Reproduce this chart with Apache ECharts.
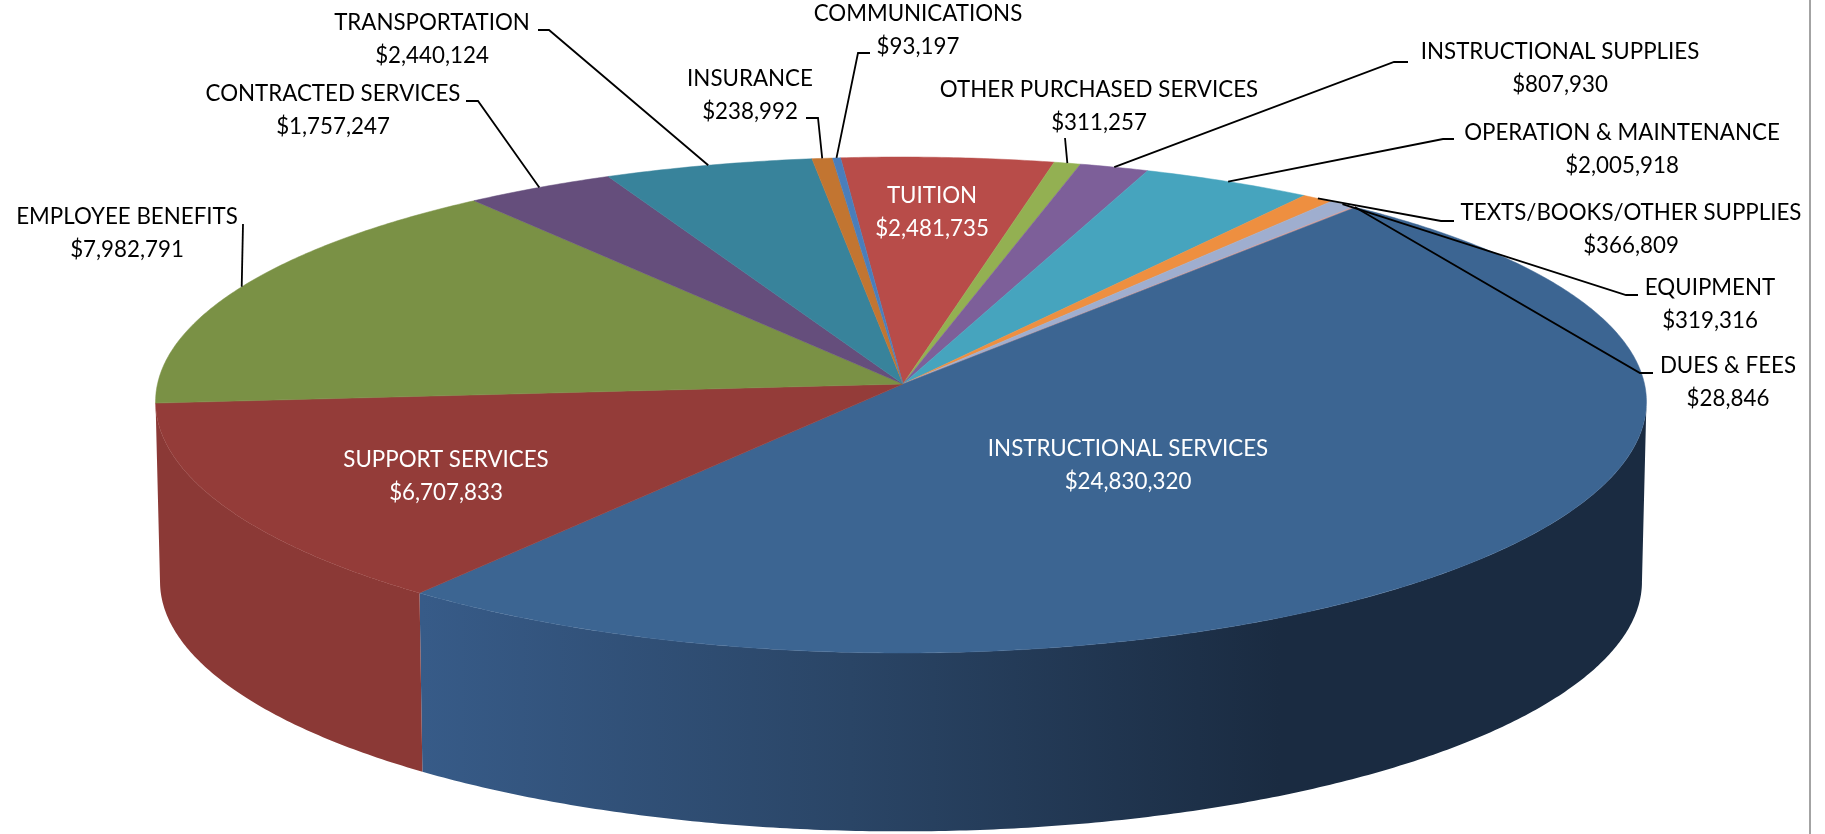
<!DOCTYPE html>
<html>
<head>
<meta charset="utf-8">
<title>Expenditures</title>
<script src="https://cdn.jsdelivr.net/npm/echarts@6/dist/echarts.min.js"></script>
<style>
    html, body { margin: 0; padding: 0; background: #fff; }
    #chart { width: 1825px; height: 834px; }
</style>
</head>
<body>
<div id="chart"></div>
<script>
// clockwise from the tuition slice
var categories = ['TUITION', 'OTHER PURCHASED SERVICES', 'INSTRUCTIONAL SUPPLIES', 'OPERATION & MAINTENANCE',
    'TEXTS/BOOKS/OTHER SUPPLIES', 'EQUIPMENT', 'DUES & FEES', 'INSTRUCTIONAL SERVICES', 'SUPPORT SERVICES',
    'EMPLOYEE BENEFITS', 'CONTRACTED SERVICES', 'TRANSPORTATION', 'INSURANCE', 'COMMUNICATIONS'];
var amounts = [2481735, 311257, 807930, 2005918, 366809, 319316, 28846, 24830320, 6707833,
    7982791, 1757247, 2440124, 238992, 93197];
var topColors = ['#B84C49', '#93B052', '#7D5F99', '#46A4BE', '#EE8F40', '#9FAECF', '#D09B98', '#3C6592', '#943C39',
    '#7A9145', '#654E7C', '#38839B', '#C27531', '#4A7EBB'];

// label centre x, y of the first text line, leader start and elbow
var labelLayout = [
    { x: 932, y: 195, white: true },
    { x: 1099, y: 89, leader: [[1065, 138]] },
    { x: 1560, y: 51, leader: [[1408, 62], [1394, 62]] },
    { x: 1622, y: 132, leader: [[1454, 139], [1443, 139]] },
    { x: 1631, y: 212, leader: [[1454, 221], [1441, 221]] },
    { x: 1710, y: 287, leader: [[1638, 295], [1626, 295]] },
    { x: 1728, y: 365, leader: [[1653, 373], [1640, 373]] },
    { x: 1128, y: 448, white: true },
    { x: 446, y: 459, white: true },
    { x: 127, y: 216, leader: [[243, 224]] },
    { x: 333, y: 93, leader: [[466, 101], [478, 101]] },
    { x: 432, y: 22, leader: [[538, 30], [549, 30]] },
    { x: 750, y: 78, leader: [[806, 118], [818, 118]] },
    { x: 918, y: 13, leader: [[870, 53], [858, 53]] }
];

var START_DEG = -5;
var CX = 903, CY = 384;
var RIM_DX = -2;                               // rim sits a little left of the apex
var FX = 743.5, FY = 246.2;
var PERSP_X = 0.072, PERSP_Y = 0.0847;
var DEPTH = 180, BOTTOM_SCALE = 0.994;
var FONT = '23.5px Lato, "Noto Sans", sans-serif';

var total = amounts.reduce(function (a, b) { return a + b; }, 0);
var startAngles = [];
amounts.reduce(function (sum, v, i) {
    startAngles[i] = START_DEG + sum / total * 360;
    return sum + v;
}, 0);

function project(deg, level) {
    var t = deg * Math.PI / 180;
    var X = Math.sin(t), Y = -Math.cos(t);
    var s = level ? BOTTOM_SCALE : 1;
    return [
        CX + RIM_DX + s * FX * X / (1 - PERSP_X * Y),
        CY + (level ? DEPTH : 0) + s * FY * Y / (1 - PERSP_Y * Y)
    ];
}

function arc(from, to, level) {
    var pts = [];
    var n = Math.max(2, Math.ceil(Math.abs(to - from) / 0.5));
    for (var i = 0; i <= n; i++) {
        pts.push(project(from + (to - from) * i / n, level));
    }
    return pts;
}

// angle range where the side wall faces the viewer
var wallFrom = Math.acos(-PERSP_X) * 180 / Math.PI;
var wallTo = 360 - wallFrom;

function wallFill(i) {
    if (categories[i] === 'INSTRUCTIONAL SERVICES') {
        return new echarts.graphic.LinearGradient(422, 0, 1280, 0, [
            { offset: 0, color: '#375B88' },
            { offset: 0.5, color: '#2A4566' },
            { offset: 1, color: '#1A2B41' }
        ], true);
    }
    return '#8B3936';
}

function renderSlice(params, api) {
    var i = params.dataIndex;
    var from = startAngles[i];
    var to = from + api.value(0) / total * 360;
    var children = [];
    var a = Math.max(from, wallFrom), b = Math.min(to, wallTo);
    if (b > a) {
        var wall = arc(a, b, 0).concat(arc(a, b, 1).reverse());
        children.push({ type: 'polygon', shape: { points: wall }, style: { fill: wallFill(i) } });
    }
    var top = [[CX, CY]].concat(arc(from, to, 0));
    children.push({
        type: 'polygon',
        shape: { points: top },
        style: { fill: topColors[i], stroke: topColors[i], lineWidth: 0.5 }
    });
    return { type: 'group', children: children };
}

function renderLabel(params, api) {
    var i = params.dataIndex;
    var value = api.value(0);
    var lay = labelLayout[i];
    var children = [];
    if (lay.leader) {
        var rim = project(startAngles[i] + value / total * 180, 0);
        children.push({
            type: 'polyline',
            shape: { points: lay.leader.concat([rim]) },
            style: { fill: 'none', stroke: '#000', lineWidth: 1.8 }
        });
    }
    // the original face is narrower than Lato, so squeeze it slightly
    children.push({
        type: 'text',
        x: lay.x,
        y: lay.y - 16,
        scaleX: 0.95,
        style: {
            x: 0,
            y: 0,
            text: categories[i] + '\n$' + value.toLocaleString('en-US'),
            textAlign: 'center',
            textVerticalAlign: 'top',
            lineHeight: 33,
            font: FONT,
            fill: lay.white ? '#fff' : '#000'
        }
    });
    return { type: 'group', children: children };
}

var seriesData = amounts.map(function (v) { return [v]; });
var chart = echarts.init(document.getElementById('chart'));
chart.setOption({
    backgroundColor: '#fff',
    animation: false,
    graphic: [{
        type: 'line',
        shape: { x1: 1810, y1: 0, x2: 1810, y2: 834 },
        style: { stroke: '#A3A3A3', lineWidth: 2 }
    }],
    series: [
        { type: 'custom', coordinateSystem: 'none', silent: true, z: 2, data: seriesData, renderItem: renderSlice },
        { type: 'custom', coordinateSystem: 'none', silent: true, z: 3, data: seriesData, renderItem: renderLabel }
    ]
});
</script>
</body>
</html>
